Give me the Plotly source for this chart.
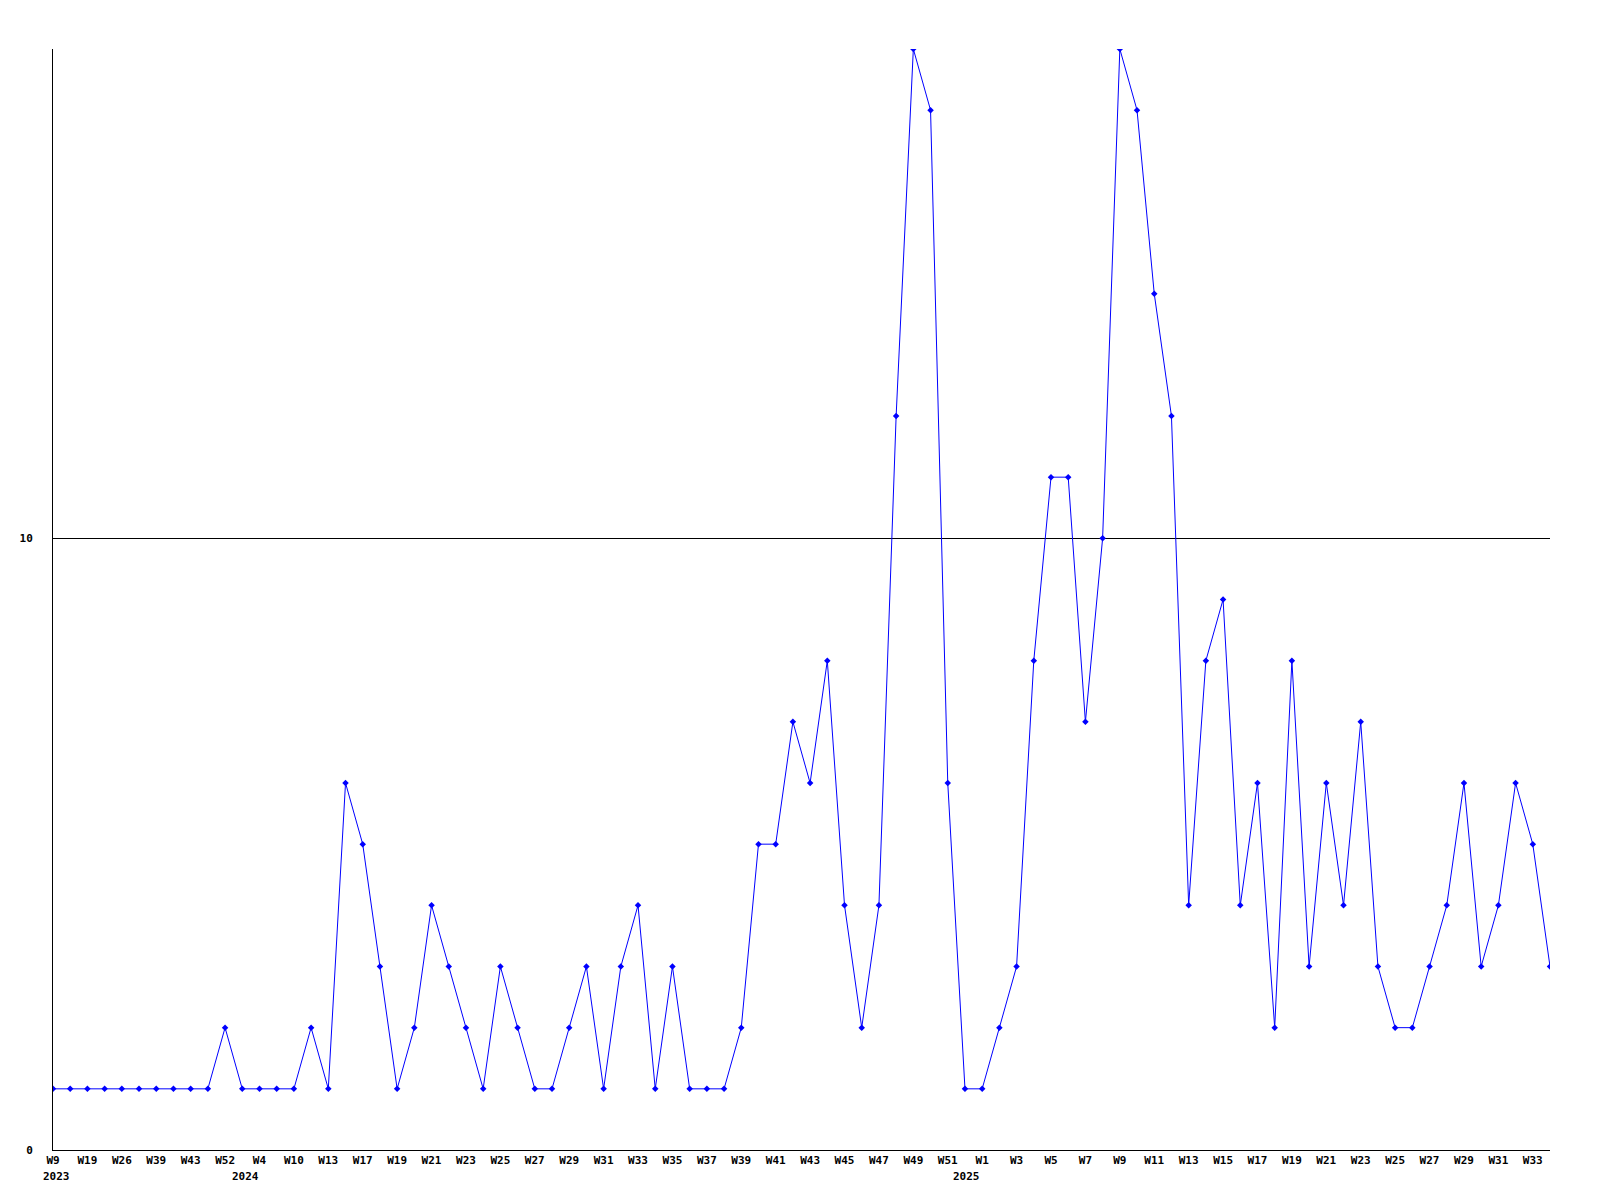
import plotly.graph_objects as go

# Weekly values (88 consecutive data points)
values = [1, 1, 1, 1, 1, 1, 1, 1, 1, 1,
          2, 1, 1, 1, 1, 2, 1, 6, 5, 3,
          1, 2, 4, 3, 2, 1, 3, 2, 1, 1,
          2, 3, 1, 3, 4, 1, 3, 1, 1, 1,
          2, 5, 5, 7, 6, 8, 4, 2, 4, 12,
          18, 17, 6, 1, 1, 2, 3, 8, 11, 11,
          7, 10, 18, 17, 14, 12, 4, 8, 9, 4,
          6, 2, 8, 3, 6, 4, 7, 3, 2, 2,
          3, 4, 6, 3, 4, 6, 5, 3]

# Tick labels shown on every second point
tick_labels = ["W9", "W19", "W26", "W39", "W43", "W52", "W4", "W10", "W13", "W17",
               "W19", "W21", "W23", "W25", "W27", "W29", "W31", "W33", "W35", "W37",
               "W39", "W41", "W43", "W45", "W47", "W49", "W51", "W1", "W3", "W5",
               "W7", "W9", "W11", "W13", "W15", "W17", "W19", "W21", "W23", "W25",
               "W27", "W29", "W31", "W33"]

year_labels = ["2023", "2024", "2025"]
year_positions = [0.2, 11.2, 53.1]

y_ticks = [0, 10]
y_tick_text = ["0", "10"]

x = list(range(len(values)))
tick_vals = list(range(0, len(values), 2))[:len(tick_labels)]

font = dict(family="DejaVu Sans Mono", size=11, color="black", weight="bold")

fig = go.Figure()
fig.add_trace(go.Scatter(
    x=x, y=values, mode="lines+markers",
    line=dict(color="#0000ff", width=1),
    marker=dict(symbol="diamond", size=5, color="#0000ff"),
    showlegend=False, hoverinfo="skip",
))

for lab, pos in zip(year_labels, year_positions):
    fig.add_annotation(x=pos, y=0, xref="x", yref="paper", text=lab,
                       showarrow=False, yanchor="top", xanchor="center",
                       yshift=-18, font=font)

fig.update_layout(
    width=1600, height=1200,
    margin=dict(l=42, r=58, t=41, b=58),
    paper_bgcolor="white", plot_bgcolor="white",
    font=font,
)
fig.update_xaxes(
    range=[0, len(values) - 1],
    tickvals=tick_vals, ticktext=tick_labels,
    showgrid=False, zeroline=False,
    showline=True, linecolor="black", linewidth=1,
    ticks="", tickangle=0, tickfont=font,
)
fig.update_yaxes(
    range=[0, 18],
    tickvals=y_ticks, ticktext=y_tick_text,
    showgrid=True, gridcolor="black", gridwidth=1,
    zeroline=False,
    showline=True, linecolor="black", linewidth=1,
    ticks="", ticklabelstandoff=17, tickfont=font,
)

fig.write_html("out.html")
